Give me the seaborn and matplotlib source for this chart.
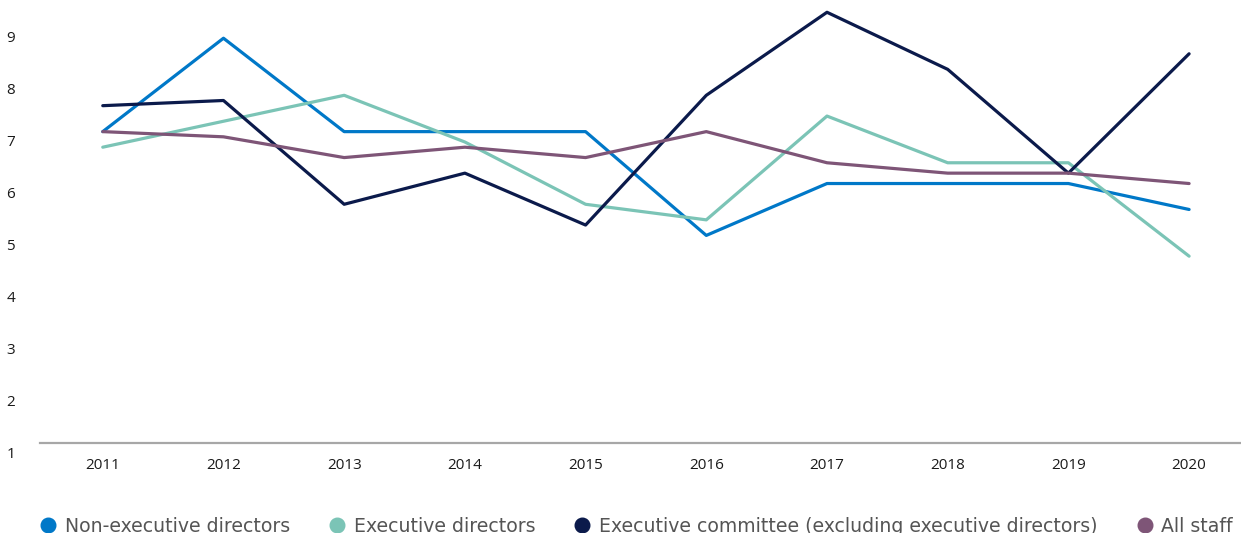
import matplotlib
matplotlib.use("Agg")
import matplotlib.pyplot as plt
from matplotlib.lines import Line2D
from matplotlib.transforms import ScaledTranslation
import seaborn as sns
import pandas as pd

years = [2011, 2012, 2013, 2014, 2015, 2016, 2017, 2018, 2019, 2020]
non_exec = [7.0, 8.8, 7.0, 7.0, 7.0, 5.0, 6.0, 6.0, 6.0, 5.5]
exec_dirs = [6.7, 7.2, 7.7, 6.8, 5.6, 5.3, 7.3, 6.4, 6.4, 4.6]
exec_comm = [7.5, 7.6, 5.6, 6.2, 5.2, 7.7, 9.3, 8.2, 6.2, 8.5]
all_staff = [7.0, 6.9, 6.5, 6.7, 6.5, 7.0, 6.4, 6.2, 6.2, 6.0]
series_names = ["Non-executive directors", "Executive directors",
                "Executive committee (excluding executive directors)", "All staff"]
y_ticks = [1, 2, 3, 4, 5, 6, 7, 8, 9]

colors = ["#0078C8", "#7BC4B6", "#0B1A4B", "#7E5577"]

rows = []
for name, vals in zip(series_names, [non_exec, exec_dirs, exec_comm, all_staff]):
    for y, v in zip(years, vals):
        rows.append({"year": y, "value": v, "series": name})
df = pd.DataFrame(rows)

sns.set_theme(style="white")
plt.rcParams["font.family"] = ["Open Sans", "DejaVu Sans"]

fig = plt.figure(figsize=(12.41, 5.33), dpi=100)
ax = fig.add_axes([40 / 1241, 90 / 533, 1 - 40 / 1241, 0.8276])

sns.lineplot(data=df, x="year", y="value", hue="series", hue_order=series_names,
             palette=colors, linewidth=2.3, ax=ax, legend=False)

ax.set_xlim(2011 - 0.52, 2020 + 0.43)
ax.set_ylim(1, 9.5)
ax.set_xticks(years)
ax.set_xticklabels([str(y) for y in years])
ax.set_yticks(y_ticks)
ax.set_yticklabels([str(t) for t in y_ticks])
ax.set_xlabel("")
ax.set_ylabel("")

for s in ["left", "right", "top"]:
    ax.spines[s].set_visible(False)
ax.spines["bottom"].set_color("#A7A7A7")
ax.spines["bottom"].set_linewidth(1.6)

ax.tick_params(axis="x", length=0, pad=11, labelsize=11, labelcolor="#1a1a1a")
ax.tick_params(axis="y", length=0, pad=14, labelsize=11, labelcolor="#1a1a1a")
for lbl in ax.get_yticklabels():
    lbl.set_horizontalalignment("left")
    lbl.set_transform(lbl.get_transform() + ScaledTranslation(-14 / 100, -9 / 100, fig.dpi_scale_trans))

handles = [Line2D([0], [0], marker="o", linestyle="", markersize=10.5,
                  markerfacecolor=c, markeredgecolor=c) for c in colors]
fig.legend(handles, series_names, loc="center left",
           bbox_to_anchor=(31 / 1241, 1 - 526 / 533), ncol=4, frameon=False,
           prop={"family": ["DejaVu Sans"], "size": 13.6},
           handletextpad=0.38, columnspacing=2.0, labelcolor="#555555",
           handlelength=1.0, borderaxespad=0)

fig.savefig("out.png", dpi=100)
